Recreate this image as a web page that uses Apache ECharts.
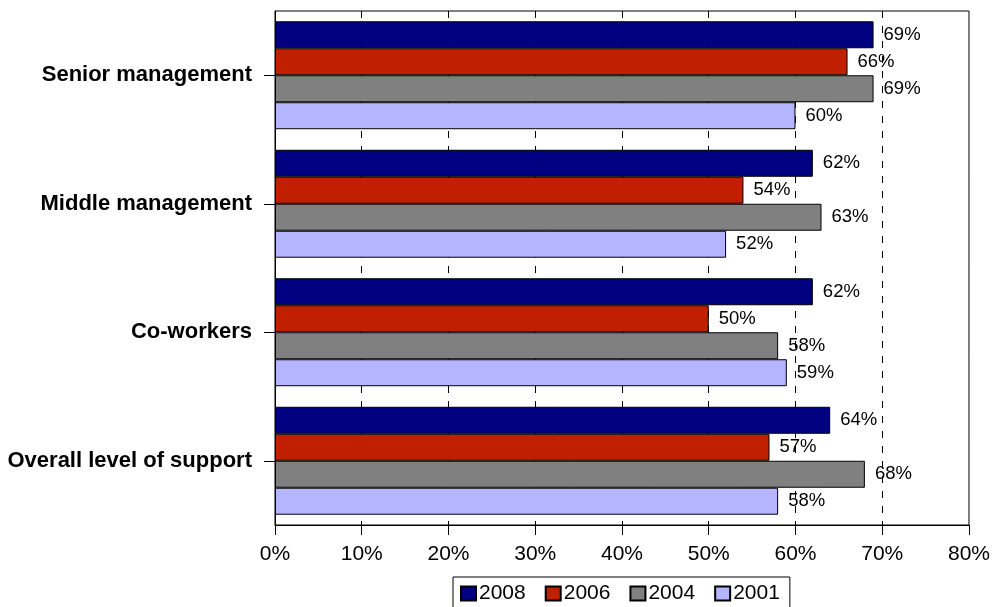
<!DOCTYPE html>
<html>
<head>
<meta charset="utf-8">
<script src="https://cdn.jsdelivr.net/npm/echarts@6/dist/echarts.min.js"></script>
<style>
  html, body { margin: 0; padding: 0; background: #fff; }
  #chart { width: 993px; height: 607px; }
</style>
</head>
<body>
<div id="chart"></div>
<script>
// Support levels by group, per survey year (percent)
const categories = ['Senior management', 'Middle management', 'Co-workers', 'Overall level of support'];
const years = ['2008', '2006', '2004', '2001'];
const values2008 = [69, 62, 62, 64];
const values2006 = [66, 54, 50, 57];
const values2004 = [69, 63, 58, 68];
const values2001 = [60, 52, 59, 58];
const xTicks = [0, 10, 20, 30, 40, 50, 60, 70, 80];

const seriesValues = [values2008, values2006, values2004, values2001];
const colors = ['#000080', '#C02000', '#808080', '#B4B4FF'];
const font = "'Liberation Sans', Arial, sans-serif";

const chart = echarts.init(document.getElementById('chart'), null, { renderer: 'canvas' });

chart.setOption({
  animation: false,
  backgroundColor: '#ffffff',
  textStyle: { fontFamily: font },
  grid: {
    left: 275, right: 22, top: 11, bottom: 82,
    show: true, borderColor: '#000', borderWidth: 1, backgroundColor: 'transparent'
  },
  legend: {
    data: years,
    left: 453, top: 577,
    padding: [6, 10, 10, 7],
    itemGap: 19,
    itemWidth: 15, itemHeight: 14,
    icon: 'rect',
    borderColor: '#000', borderWidth: 1, borderRadius: 0,
    backgroundColor: '#fff',
    textStyle: { fontSize: 21, color: '#000', fontFamily: font, padding: [0, 0, 0, -2] }
  },
  xAxis: {
    type: 'value',
    min: xTicks[0], max: xTicks[xTicks.length - 1], interval: 10,
    axisLine: { show: true, lineStyle: { color: '#000', width: 1 } },
    axisTick: { show: true, length: 10, lineStyle: { color: '#000' } },
    axisLabel: {
      formatter: v => v + '%', fontSize: 21, color: '#000', margin: 19, fontFamily: font
    },
    splitLine: {
      show: true, showMinLine: false, showMaxLine: false,
      lineStyle: { color: '#000', type: [7, 8], width: 1 }
    }
  },
  yAxis: {
    type: 'category',
    data: categories,
    inverse: true,
    axisLine: { show: true, lineStyle: { color: '#000', width: 1 } },
    axisTick: { show: true, alignWithLabel: true, length: 11, lineStyle: { color: '#000' } },
    axisLabel: { fontSize: 22, fontWeight: 'bold', color: '#000', margin: 23, fontFamily: font },
    splitLine: { show: false }
  },
  series: years.map((y, i) => ({
    name: y,
    type: 'bar',
    data: seriesValues[i],
    barGap: '0%',
    barCategoryGap: '16%',
    itemStyle: { color: colors[i], borderColor: '#000', borderWidth: 1 },
    label: {
      show: true, position: 'right', distance: 10,
      formatter: p => p.value + '%',
      fontSize: 18.5, color: '#000', fontFamily: font
    },
    z: 2
  }))
});
</script>
</body>
</html>
